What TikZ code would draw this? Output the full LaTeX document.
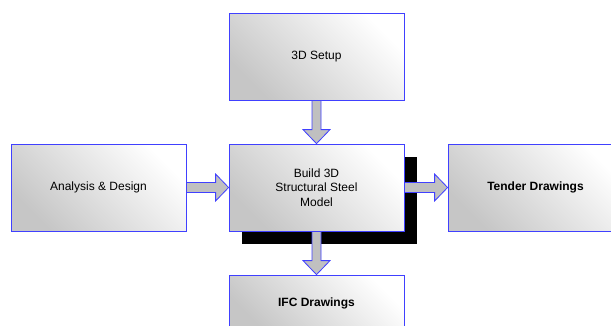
\documentclass[tikz,border=0pt]{standalone}
\usepackage{fontspec}
\setmainfont{Liberation Sans}
\usetikzlibrary{calc,shadows}
\definecolor{boxblue}{RGB}{64,64,255}
\definecolor{arrowgray}{RGB}{192,192,192}

\tikzset{
  block/.style={draw=boxblue, line width=0.8pt, top color=white, bottom color=gray!45,
    shading angle=-45, minimum width=175pt, minimum height=87pt, inner sep=0pt,
    align=center, font=\fontsize{12}{14.5}\selectfont},
  blockarrow/.style={draw=boxblue, line width=0.8pt, fill=arrowgray, line join=miter}
}

% block arrows between named boxes
\newcommand{\hblock}[2]{\draw[blockarrow] ($(#1.east)+(0,-5)$) -- ($(#2.west)+(-13,-5)$)
  -- ($(#2.west)+(-13,-13.5)$) -- (#2.west) -- ($(#2.west)+(-13,13.5)$)
  -- ($(#2.west)+(-13,5)$) -- ($(#1.east)+(0,5)$) -- cycle;}
\newcommand{\vblock}[2]{\draw[blockarrow] ($(#1.south)+(-4.5,0)$) -- ($(#2.north)+(-4.5,-14)$)
  -- ($(#2.north)+(-13.5,-14)$) -- (#2.north) -- ($(#2.north)+(13.5,-14)$)
  -- ($(#2.north)+(4.5,-14)$) -- ($(#1.south)+(4.5,0)$) -- cycle;}

\begin{document}
\begin{tikzpicture}[x=1pt,y=-1pt]
\useasboundingbox (0,0) rectangle (611,325);
\clip (0,0) rectangle (611,325);

\node[block] (setup) at (316.5,56.5) {3D Setup};
\node[block] (analysis) at (98.5,187.5) {Analysis \& Design};
\node[block, drop shadow={shadow xshift=13pt, shadow yshift=-13pt, fill=black, opacity=1}]
  (build) at (316.5,187.5) {Build 3D\\Structural Steel\\Model};
\node[block] (tender) at (535.5,187.5) {\textbf{Tender Drawings}};
\node[block, minimum height=56pt] (ifc) at (316.5,303) {\textbf{IFC Drawings}};

%arrows
\vblock{setup}{build}
\hblock{analysis}{build}
\hblock{build}{tender}
\vblock{build}{ifc}
\end{tikzpicture}
\end{document}
